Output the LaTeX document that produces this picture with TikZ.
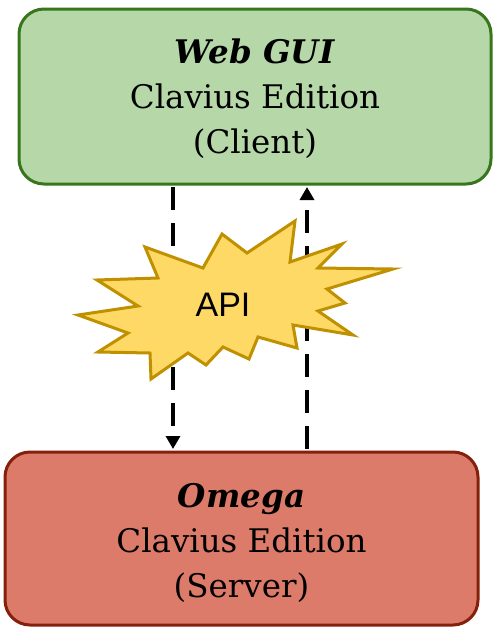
\documentclass[tikz,border=0pt]{standalone}
\usepackage{fontspec}
\setmainfont{DejaVu Serif}
\newfontfamily\apifont{Liberation Sans}
\usetikzlibrary{arrows.meta}
\definecolor{gfill}{HTML}{B6D7A8}
\definecolor{gline}{HTML}{38761D}
\definecolor{rfill}{HTML}{DD7B6A}
\definecolor{rline}{HTML}{85200C}
\definecolor{sfill}{HTML}{FFD966}
\definecolor{sline}{HTML}{BF9000}
\tikzset{
  box/.style={rounded corners=25pt, line width=3pt, align=center, inner sep=0pt,
    font=\fontsize{32.5}{45}\selectfont},
  conn/.style={line width=4.6pt, dash pattern=on 23pt off 13pt,
    -{Triangle[width=14pt,length=13pt]}},
}
\begin{document}
\begin{tikzpicture}[x=1pt,y=-1pt]
\useasboundingbox (0,0) rectangle (495,627);
\node[box, draw=gline, fill=gfill, minimum width=472pt, minimum height=175pt] (top) at (255,96.5) {};
\node[font=\fontsize{32.5}{45}\selectfont, align=center, inner sep=0pt, anchor=center] (toptext) at (255,99)
  {\textbf{\textit{Web GUI}}\\Clavius Edition\\(Client)};
\node[box, draw=rline, fill=rfill, minimum width=473pt, minimum height=173pt] (bot) at (241.5,538.5) {};
\node[font=\fontsize{32.5}{45}\selectfont, align=center, inner sep=0pt, anchor=center] (bottext) at (241.5,543)
  {\textbf{\textit{Omega}}\\Clavius Edition\\(Server)};
\coordinate (lx) at (173,0);
\coordinate (rx) at (307,0);
\draw[conn] ([yshift=-1.5pt]top.south -| lx) -- ([yshift=1.5pt]bot.north -| lx);
\draw[conn] ([yshift=1.5pt]bot.north -| rx) -- ([yshift=-1.5pt]top.south -| rx);
\draw[line width=3pt, line join=miter, draw=sline, fill=sfill]
  (78,315) -- (138,306) -- (97,280) -- (158,278) -- (145,247) -- (203,268) --
  (222,234) -- (247,253) -- (295,221) -- (290,262) -- (342,244) -- (318,268) --
  (393,269) -- (327,289) -- (345,303) -- (318,311) -- (353,335) -- (293,325) --
  (297,348) -- (258,337) -- (249,359) -- (223,347) -- (206,365) -- (188,353) --
  (151,379) -- (150,353) -- (98,352) -- (128,333) -- cycle;
\node[font=\apifont\fontsize{34}{40}\selectfont, inner sep=0pt] (api) at (223,305) {API};
\end{tikzpicture}
\end{document}
